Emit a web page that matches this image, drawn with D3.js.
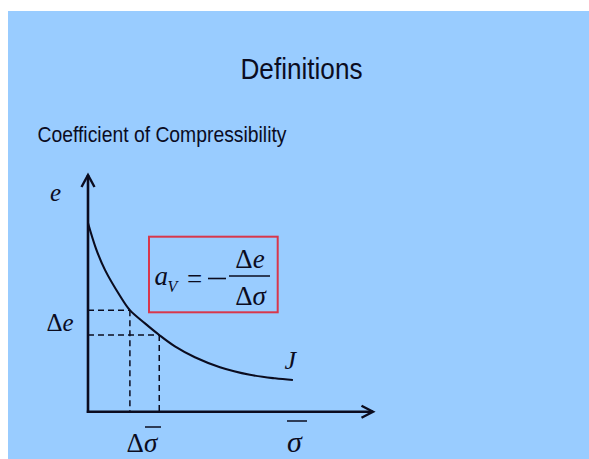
<!DOCTYPE html>
<html>
<head>
<meta charset="utf-8">
<script src="https://cdn.jsdelivr.net/npm/d3@7"></script>
<style>
  html, body { margin: 0; padding: 0; background: #ffffff; }
  svg { display: block; }
</style>
</head>
<body>
<svg id="chart" width="589" height="459"></svg>
<script>
// ---- Data (axis units 0..10 on both axes) ----
const sigmaVals = [0, 0.28, 0.60, 1.12, 1.47, 2.0, 2.50, 3.05, 3.75, 4.63, 5.68, 6.56, 7.19];
const eVals     = [7.97, 6.89, 5.98, 4.90, 4.29, 3.73, 3.24, 2.76, 2.30, 1.88, 1.56, 1.41, 1.34];
const deltaSigma = [1.47, 2.50];   // vertical dashed guides
const deltaE     = [4.29, 3.24];   // horizontal dashed guides
const titleText = "Definitions";
const subtitleText = "Coefficient of Compressibility";
const curveLabel = "J";

const svg = d3.select("#chart");
const ink = "#0b0c1f";
const serif = "'Liberation Serif', 'Times New Roman', serif";
const sans = "'Liberation Sans', Arial, sans-serif";

// background panel
svg.append("rect").attr("x", 8).attr("y", 11).attr("width", 581).attr("height", 448).attr("fill", "#99ccff");

// titles
svg.append("text").attr("x", 240.5).attr("y", 78.5)
  .attr("font-family", sans).attr("font-size", 30).attr("fill", ink)
  .attr("textLength", 122).attr("lengthAdjust", "spacingAndGlyphs")
  .text(titleText);
svg.append("text").attr("x", 37.5).attr("y", 141.5)
  .attr("font-family", sans).attr("font-size", 22).attr("fill", ink)
  .attr("textLength", 249).attr("lengthAdjust", "spacingAndGlyphs")
  .text(subtitleText);

// scales
const x = d3.scaleLinear().domain([0, 10]).range([88, 373]);
const y = d3.scaleLinear().domain([0, 10]).range([411.7, 175]);

// dashed guides
const g = svg.append("g");
deltaSigma.forEach((s, i) => {
  const ev = deltaE[i];
  g.append("line").attr("x1", x(0)).attr("x2", x(s)).attr("y1", y(ev)).attr("y2", y(ev))
    .attr("stroke", ink).attr("stroke-width", 1.5).attr("stroke-dasharray", "6,4");
  g.append("line").attr("x1", x(s)).attr("x2", x(s)).attr("y1", y(ev)).attr("y2", y(0))
    .attr("stroke", ink).attr("stroke-width", 1.5).attr("stroke-dasharray", "6,4");
});

// curve
const pts = sigmaVals.map((s, i) => [s, eVals[i]]);
const line = d3.line().x(d => x(d[0])).y(d => y(d[1])).curve(d3.curveCatmullRom.alpha(0.5));
svg.append("path").attr("d", line(pts)).attr("fill", "none")
  .attr("stroke", ink).attr("stroke-width", 2.1);

// axes with arrowheads
svg.append("line").attr("x1", x(0)).attr("x2", x(0)).attr("y1", y(0) + 1.2).attr("y2", y(10))
  .attr("stroke", ink).attr("stroke-width", 2.6);
svg.append("line").attr("x1", x(0) - 1.2).attr("x2", x(10)).attr("y1", y(0)).attr("y2", y(0))
  .attr("stroke", ink).attr("stroke-width", 2.6);
svg.append("path")
  .attr("d", `M${x(0) - 6.5},${y(10) + 12} L${x(0)},${y(10)} L${x(0) + 6.5},${y(10) + 12}`)
  .attr("fill", "none").attr("stroke", ink).attr("stroke-width", 2.4).attr("stroke-linejoin", "miter");
svg.append("path")
  .attr("d", `M${x(10) - 11.5},${y(0) - 6} L${x(10)},${y(0)} L${x(10) - 11.5},${y(0) + 6}`)
  .attr("fill", "none").attr("stroke", ink).attr("stroke-width", 2.4).attr("stroke-linejoin", "miter");

// axis labels
svg.append("text").attr("x", 50).attr("y", 201)
  .attr("font-family", serif).attr("font-style", "italic").attr("font-size", 25).attr("fill", ink).text("e");

const de = svg.append("text").attr("x", 46.5).attr("y", 331)
  .attr("font-family", serif).attr("font-size", 25).attr("fill", ink);
de.append("tspan").text("Δ");
de.append("tspan").attr("font-style", "italic").text("e");

const ds = svg.append("text").attr("x", 126.5).attr("y", 451.5)
  .attr("font-family", serif).attr("font-size", 27).attr("fill", ink);
ds.append("tspan").text("Δ");
ds.append("tspan").attr("font-style", "italic").text("σ");
svg.append("line").attr("x1", 145).attr("x2", 161).attr("y1", 427).attr("y2", 427)
  .attr("stroke", ink).attr("stroke-width", 1.5);

svg.append("text").attr("x", 287).attr("y", 451.5)
  .attr("font-family", serif).attr("font-style", "italic").attr("font-size", 30).attr("fill", ink).text("σ");
svg.append("line").attr("x1", 287).attr("x2", 307).attr("y1", 421).attr("y2", 421)
  .attr("stroke", ink).attr("stroke-width", 1.5);

svg.append("text").attr("x", 284.5).attr("y", 368.5)
  .attr("font-family", serif).attr("font-style", "italic").attr("font-size", 26).attr("fill", ink).text(curveLabel);

// formula box
svg.append("rect").attr("x", 149).attr("y", 236.7).attr("width", 128.7).attr("height", 75.6)
  .attr("fill", "none").attr("stroke", "#d8374c").attr("stroke-width", 2);
svg.append("text").attr("x", 154.5).attr("y", 284.5)
  .attr("font-family", serif).attr("font-style", "italic").attr("font-size", 27).attr("fill", ink).text("a");
svg.append("text").attr("x", 167.5).attr("y", 291.5)
  .attr("font-family", serif).attr("font-style", "italic").attr("font-size", 16).attr("fill", ink).text("V");
svg.append("text").attr("x", 187).attr("y", 288)
  .attr("font-family", serif).attr("font-size", 27).attr("fill", ink).text("=");
svg.append("line").attr("x1", 208).attr("x2", 226).attr("y1", 278.5).attr("y2", 278.5)
  .attr("stroke", ink).attr("stroke-width", 1.6);
svg.append("line").attr("x1", 229).attr("x2", 270).attr("y1", 276).attr("y2", 276)
  .attr("stroke", ink).attr("stroke-width", 1.5);
const num = svg.append("text").attr("x", 250).attr("y", 268).attr("text-anchor", "middle")
  .attr("font-family", serif).attr("font-size", 27).attr("fill", ink);
num.append("tspan").text("Δ");
num.append("tspan").attr("font-style", "italic").text("e");
const den = svg.append("text").attr("x", 250.5).attr("y", 305).attr("text-anchor", "middle")
  .attr("font-family", serif).attr("font-size", 27).attr("fill", ink);
den.append("tspan").text("Δ");
den.append("tspan").attr("font-style", "italic").text("σ");
</script>
</body>
</html>
